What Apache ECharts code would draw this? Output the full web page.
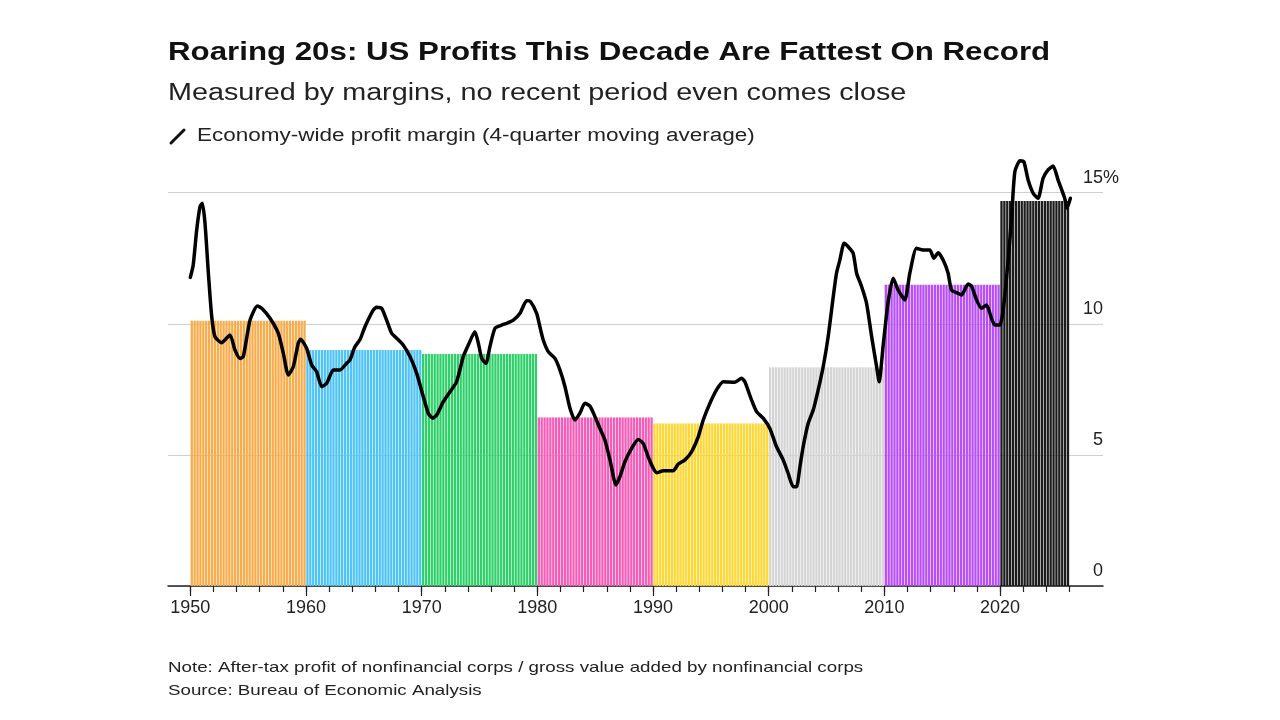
<!DOCTYPE html>
<html>
<head>
<meta charset="utf-8">
<script src="https://cdn.jsdelivr.net/npm/echarts@6/dist/echarts.min.js"></script>
<style>
  html, body { margin: 0; padding: 0; background: #fff; }
  #chart { width: 1280px; height: 720px; }
</style>
</head>
<body>
<div id="chart"></div>
<script>
// decade averages (bars), one bar per quarter
const decadeStart = [1950, 1960, 1970, 1980, 1990, 2000, 2010, 2020];
const decadeAvg = [10.12, 9.0, 8.85, 6.43, 6.2, 8.34, 11.49, 14.68];
const lastQuarterEnd = 2026;

// 4-quarter moving average of profit margin
const lineYears = [
  1950.0, 1950.25, 1950.55, 1950.84, 1951.04, 1951.27, 1951.56, 1951.85, 1952.13, 1952.7,
  1953.43, 1953.86, 1954.3, 1954.58, 1955.16, 1955.79, 1956.17, 1956.89, 1957.6, 1958.04,
  1958.47, 1958.9, 1959.33, 1959.54, 1960.06, 1960.49, 1960.92, 1961.36, 1961.79, 1962.36,
  1962.94, 1963.5, 1963.8, 1964.2, 1964.67, 1965.1, 1965.82, 1966.11, 1966.54, 1966.97,
  1967.4, 1967.84, 1968.4, 1968.99, 1969.57, 1970.14, 1970.57, 1970.95, 1971.3, 1971.87,
  1972.45, 1973.02, 1973.6, 1974.03, 1974.6, 1974.9, 1975.19, 1975.56, 1975.9, 1976.34,
  1976.91, 1977.35, 1977.92, 1978.5, 1979.07, 1979.4, 1979.94, 1980.22, 1980.51, 1980.94,
  1981.52, 1981.95, 1982.39, 1982.82, 1983.25, 1983.68, 1984.11, 1984.55, 1984.98, 1985.41,
  1985.84, 1986.28, 1986.8, 1987.14, 1987.57, 1988.15, 1988.72, 1989.15, 1989.58, 1990.02,
  1990.31, 1990.88, 1991.75, 1992.18, 1992.76, 1993.33, 1993.91, 1994.34, 1994.92, 1995.49,
  1996.07, 1997.08, 1997.65, 1997.94, 1998.52, 1998.95, 1999.52, 2000.1, 2000.68, 2001.25,
  2001.68, 2002.12, 2002.41, 2002.7, 2002.98, 2003.41, 2003.85, 2004.28, 2004.71, 2005.14,
  2005.58, 2005.86, 2006.15, 2006.52, 2006.87, 2007.3, 2007.6, 2008.03, 2008.46, 2008.9,
  2009.33, 2009.55, 2009.9, 2010.33, 2010.76, 2011.19, 2011.77, 2012.2, 2012.78, 2013.35,
  2013.93, 2014.28, 2014.65, 2015.08, 2015.51, 2015.8, 2016.38, 2016.67, 2017.24, 2017.53,
  2017.97, 2018.4, 2018.83, 2019.26, 2019.55, 2019.98, 2020.27, 2020.7, 2021.0, 2021.28,
  2021.72, 2022.06, 2022.43, 2022.86, 2023.29, 2023.72, 2024.15, 2024.59, 2025.02, 2025.59,
  2025.79, 2026.08
];
const lineValues = [
  11.77, 12.24, 13.58, 14.47, 14.6, 13.83, 11.93, 10.27, 9.51, 9.28,
  9.57, 9.0, 8.68, 8.75, 10.14, 10.68, 10.59, 10.21, 9.64, 8.87,
  8.05, 8.36, 9.26, 9.41, 9.06, 8.43, 8.17, 7.6, 7.73, 8.24,
  8.24, 8.49, 8.62, 9.1, 9.4, 9.89, 10.53, 10.63, 10.59, 10.14,
  9.64, 9.45, 9.19, 8.75, 8.11, 7.22, 6.59, 6.4, 6.52, 7.03,
  7.41, 7.79, 8.75, 9.19, 9.7, 9.26, 8.68, 8.49, 9.13, 9.83,
  9.95, 10.02, 10.14, 10.4, 10.88, 10.85, 10.4, 9.89, 9.38, 8.94,
  8.68, 8.24, 7.6, 6.78, 6.33, 6.59, 6.97, 6.86, 6.46, 6.01,
  5.57, 4.81, 3.85, 4.17, 4.74, 5.25, 5.59, 5.44, 4.93, 4.49,
  4.32, 4.4, 4.4, 4.65, 4.81, 5.12, 5.69, 6.33, 6.97, 7.48,
  7.79, 7.77, 7.92, 7.79, 7.09, 6.65, 6.4, 6.01, 5.31, 4.81,
  4.3, 3.79, 3.79, 4.55, 5.31, 6.2, 6.71, 7.48, 8.36, 9.51,
  11.03, 11.93, 12.43, 13.07, 12.94, 12.69, 11.93, 11.42, 10.78, 9.51,
  8.36, 7.79, 9.2, 10.85, 11.74, 11.29, 10.91, 11.93, 12.88, 12.81,
  12.81, 12.5, 12.71, 12.43, 11.93, 11.29, 11.16, 11.1, 11.52, 11.44,
  10.91, 10.59, 10.72, 10.21, 9.95, 9.95, 10.53, 12.43, 14.09, 15.8,
  16.22, 16.18, 15.48, 14.98, 14.79, 15.55, 15.87, 16.02, 15.48, 14.79,
  14.41, 14.79
];

const xLabelYears = [1950, 1960, 1970, 1980, 1990, 2000, 2010, 2020];
const minorTickYears = [];
for (let y = 1950; y <= 2026; y += 2) minorTickYears.push(y);

const decadeColors = ['#f8ac4b', '#4dc3f6', '#2fd06a', '#f55cb8', '#fdd734', '#d5d5d5', '#b84ef7', '#1c1c1c'];

const barData = [];
decadeStart.forEach((start, i) => {
  const end = i < decadeStart.length - 1 ? decadeStart[i + 1] : lastQuarterEnd;
  for (let t = start; t < end - 0.01; t += 0.25) {
    barData.push({ value: [t + 0.125, decadeAvg[i]], itemStyle: { color: decadeColors[i] } });
  }
});
const lineData = lineYears.map((y, i) => [y, lineValues[i]]);

const chart = echarts.init(document.getElementById('chart'), null, { renderer: 'canvas' });
const font = '"Liberation Sans", Arial, sans-serif';
// the picture's text is stretched sideways a little
const stretch = 1.25;

chart.setOption({
  animation: false,
  backgroundColor: '#fff',
  textStyle: { fontFamily: font },
  grid: { left: 168, right: 177, top: 192.7, bottom: 134 },
  xAxis: [
    {
      type: 'value',
      min: 1948.07,
      max: 2028.9,
      position: 'bottom',
      axisLine: { show: true, lineStyle: { color: '#222', width: 1.5 } },
      axisTick: { show: true, customValues: xLabelYears, length: 10, lineStyle: { color: '#222', width: 1.2 } },
      axisLabel: { customValues: xLabelYears, fontSize: 18, color: '#222', margin: 13, fontFamily: font, formatter: v => String(v) },
      splitLine: { show: false }
    },
    {
      type: 'value',
      min: 1948.07,
      max: 2028.9,
      position: 'bottom',
      axisLine: { show: false },
      axisTick: { show: true, customValues: minorTickYears, length: 6, lineStyle: { color: '#222', width: 1.2 } },
      axisLabel: { show: false },
      splitLine: { show: false }
    }
  ],
  yAxis: {
    type: 'value',
    position: 'right',
    min: 0,
    max: 15,
    interval: 5,
    axisLine: { show: false },
    axisTick: { show: false },
    splitLine: { show: true, lineStyle: { color: '#cfcfcf', width: 1.2 } },
    axisLabel: {
      inside: true,
      margin: 0,
      align: 'right',
      verticalAlign: 'bottom',
      padding: [0, 0, 6, 0],
      fontSize: 18,
      color: '#222',
      fontFamily: font,
      formatter: v => (v === 15 ? '{n|15}{pct|%}' : String(v)),
      rich: {
        n: { align: 'left', fontSize: 18, color: '#222', fontFamily: font },
        pct: { align: 'left', width: 0, fontSize: 18, color: '#222', fontFamily: font }
      }
    }
  },
  series: [
    {
      name: 'Decade average',
      type: 'bar',
      xAxisIndex: 0,
      barWidth: 2.3,
      data: barData,
      silent: true,
      z: 1
    },
    {
      name: 'Economy-wide profit margin (4-quarter moving average)',
      type: 'line',
      xAxisIndex: 0,
      data: lineData,
      showSymbol: false,
      smooth: 0.2,
      clip: false,
      lineStyle: { color: '#000', width: 3.5, join: 'round', cap: 'round' },
      z: 5
    }
  ],
  graphic: [
    {
      type: 'text', x: 168, y: 53, scaleX: stretch,
      style: {
        text: 'Roaring 20s: US Profits This Decade Are Fattest On Record',
        fontSize: 25, fontWeight: 'bold', fill: '#111', fontFamily: font, verticalAlign: 'middle'
      }
    },
    {
      type: 'text', x: 168, y: 94, scaleX: stretch,
      style: {
        text: 'Measured by margins, no recent period even comes close',
        fontSize: 23, fill: '#222', fontFamily: font, verticalAlign: 'middle'
      }
    },
    {
      type: 'line',
      shape: { x1: 171, y1: 143, x2: 184, y2: 130 },
      style: { stroke: '#111', lineWidth: 3, lineCap: 'round' }
    },
    {
      type: 'text', x: 197, y: 136, scaleX: stretch,
      style: {
        text: 'Economy-wide profit margin (4-quarter moving average)',
        fontSize: 18, fill: '#222', fontFamily: font, verticalAlign: 'middle'
      }
    },
    {
      type: 'text', x: 168, y: 668, scaleX: stretch,
      style: {
        text: 'Note: After-tax profit of nonfinancial corps / gross value added by nonfinancial corps',
        fontSize: 15, fill: '#222', fontFamily: font, verticalAlign: 'middle'
      }
    },
    {
      type: 'text', x: 168, y: 691, scaleX: stretch,
      style: {
        text: 'Source: Bureau of Economic Analysis',
        fontSize: 15, fill: '#222', fontFamily: font, verticalAlign: 'middle'
      }
    }
  ]
});
</script>
</body>
</html>
